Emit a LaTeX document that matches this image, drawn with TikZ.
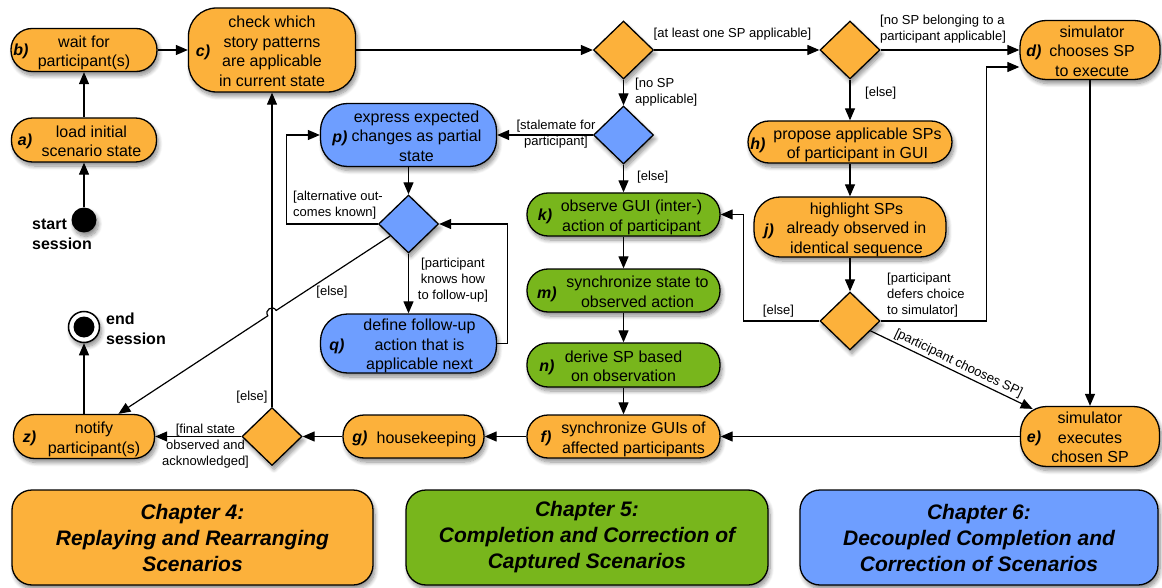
\documentclass[tikz,border=0pt]{standalone}
\usepackage{fontspec}
\setmainfont{Liberation Sans}
\usetikzlibrary{shapes.geometric, arrows.meta, calc, shadows.blur}

\definecolor{orng}{RGB}{252,177,59}
\definecolor{grn}{RGB}{120,182,28}
\definecolor{blu}{RGB}{110,158,255}

% text block of an activity, pushed right by half of #1 and set slightly low
\newcommand\actext[2]{\hspace*{#1}\raisebox{-3pt}[\height][\depth]{\begin{tabular}{@{}c@{}}#2\end{tabular}}}

\tikzset{
  softshadow/.style={blur shadow={shadow xshift=2pt, shadow yshift=-4pt,
      shadow blur radius=4pt, shadow blur steps=8, shadow opacity=45}},
  act/.style={draw, line width=1.3pt, rounded corners=21pt, inner sep=0pt,
      font=\fontsize{16}{19.5}\selectfont, softshadow},
  dia/.style={draw, shape=diamond, line width=1.3pt, inner sep=0pt,
      minimum width=60pt, minimum height=58pt, softshadow},
  lettertag/.style={inner sep=0pt, font=\fontsize{16}{19}\selectfont\bfseries\itshape},
  lbl/.style={inner sep=0pt, font=\fontsize{13}{16}\selectfont},
  bigbold/.style={inner sep=0pt, align=left, font=\fontsize{16}{20}\selectfont\bfseries},
  chap/.style={draw, line width=1.3pt, rounded corners=20pt, minimum height=95pt,
      align=center, font=\fontsize{21}{26}\selectfont\bfseries\itshape, softshadow},
  arr/.style={line width=1.2pt, -{Triangle[length=12pt,width=10pt]}},
}

\begin{document}
\begin{tikzpicture}[x=1pt, y=-1pt]
\useasboundingbox (0,0) rectangle (1162,588);

% ---------- start / end ----------
\node[circle, fill=black, minimum size=25pt, inner sep=0pt, softshadow] (start) at (84,220) {};
\node[bigbold, anchor=west] (startlbl) at (32,234) {start\\session};
\node[circle, draw, line width=1.5pt, fill=white, minimum size=31pt, inner sep=0pt, softshadow] (end) at (84,327) {};
\node[circle, fill=black, minimum size=21pt, inner sep=0pt] (endin) at (end) {};
\node[bigbold, anchor=west] (endlbl) at (106,329) {end\\session};

% ---------- activities: replaying ----------
\node[act, fill=orng, minimum width=145pt, minimum height=44pt] (a) at (84,140) {\actext{15pt}{load initial\\scenario state}};
\node[act, fill=orng, minimum width=146pt, minimum height=43pt] (b) at (84,50) {\actext{0pt}{wait for\\participant(s)}};
\node[act, fill=orng, minimum width=167pt, minimum height=84pt, rounded corners=28pt] (c) at (272,50) {\actext{0pt}{check which\\story patterns\\are applicable\\in current state}};
\node[act, fill=orng, minimum width=140pt, minimum height=59pt, rounded corners=26pt] (d) at (1090,50) {\actext{4pt}{simulator\\chooses SP\\to execute}};
\node[act, fill=orng, minimum width=139pt, minimum height=60pt, rounded corners=26pt] (e) at (1090,436.5) {\actext{0pt}{simulator\\executes\\chosen SP}};
\node[act, fill=orng, minimum width=204pt, minimum height=42pt] (h) at (850,142) {\actext{15pt}{propose applicable SPs\\of participant in GUI}};
\node[act, fill=orng, minimum width=192pt, minimum height=60pt, rounded corners=26pt] (j) at (850,227) {\actext{13pt}{highlight SPs\\already observed in\\identical sequence}};
\node[act, fill=orng, minimum width=193pt, minimum height=43pt] (f) at (623.5,436.5) {\actext{20pt}{synchronize GUIs of\\affected participants}};
\node[act, fill=orng, minimum width=141pt, minimum height=43pt] (g) at (413.5,436.5) {\actext{26pt}{housekeeping}};
\node[act, fill=orng, minimum width=141pt, minimum height=44pt] (z) at (84,436.5) {\actext{20pt}{notify\\participant(s)}};

% ---------- activities: completion ----------
\node[act, fill=grn, minimum width=193pt, minimum height=43pt] (k) at (623.5,214.5) {\actext{16pt}{observe GUI (inter-)\\action of participant}};
\node[act, fill=grn, minimum width=193pt, minimum height=43pt] (m) at (623.5,290.5) {\actext{28pt}{synchronize state to\\observed action}};
\node[act, fill=grn, minimum width=193pt, minimum height=44pt] (n) at (623.5,365) {\actext{0pt}{derive SP based\\on observation}};

% ---------- activities: decoupled completion ----------
\node[act, fill=blu, minimum width=176pt, minimum height=63pt, rounded corners=27pt] (p) at (408.5,135) {\actext{16pt}{express expected\\changes as partial\\state}};
\node[act, fill=blu, minimum width=176pt, minimum height=59pt, rounded corners=27pt] (q) at (408.5,343.5) {\actext{22pt}{define follow-up\\action that is\\applicable next}};

% ---------- decisions ----------
\node[dia, fill=orng] (d1) at (623.5,50) {};
\node[dia, fill=orng] (d2) at (850,50) {};
\node[dia, fill=blu]  (d3) at (623.5,135) {};
\node[dia, fill=blu]  (d4) at (408.5,224) {};
\node[dia, fill=orng] (d5) at (272,436.5) {};
\node[dia, fill=orng] (d6) at (850,321) {};

% ---------- letters ----------
\node[lettertag] (atag) at (25,141) {a)};
\node[lettertag] (btag) at (21,51) {b)};
\node[lettertag] (ctag) at (203,52) {c)};
\node[lettertag] (dtag) at (1034,52) {d)};
\node[lettertag] (etag) at (1034,438) {e)};
\node[lettertag] (ftag) at (546,438) {f)};
\node[lettertag] (gtag) at (360,438) {g)};
\node[lettertag] (htag) at (758,145) {h)};
\node[lettertag] (jtag) at (769,231) {j)};
\node[lettertag] (ktag) at (545,216) {k)};
\node[lettertag] (mtag) at (547,294) {m)};
\node[lettertag] (ntag) at (547,367) {n)};
\node[lettertag] (ptag) at (340,138) {p)};
\node[lettertag] (qtag) at (337,346) {q)};
\node[lettertag] (ztag) at (29.5,438) {z)};

% ---------- chapters ----------
\node[chap, fill=orng, minimum width=361pt] (ch4) at (192.5,537.5) {Chapter 4:\\Replaying and Rearranging\\Scenarios};
\node[chap, fill=grn, minimum width=362pt] (ch5) at (587,537.5) {Chapter 5:\\Completion and Correction of\\Captured Scenarios};
\node[chap, fill=blu, minimum width=358pt] (ch6) at (979,537.5) {Chapter 6:\\Decoupled Completion and\\Correction of Scenarios};

% ---------- flows ----------
\draw[arr] (start) -- (a);
\draw[arr] (a) -- (b);
\draw[arr] (b) -- (c);
\draw[arr] (c) -- (d1);
\draw[arr] (d1) -- (d2);
\draw[arr] (d2) -- (d);
\draw[arr] (d1) -- (d3);
\draw[arr] (d2) -- (h);
\draw[arr] (d3) -- (p);
\draw[arr] (d3) -- (k);
\draw[arr] (k) -- (m);
\draw[arr] (m) -- (n);
\draw[arr] (n) -- (f);
\draw[arr] (h) -- (j);
\draw[arr] (j) -- (d6);
\draw[arr] (d) -- (e);
\draw[arr] (e) -- (f);
\draw[arr] (f) -- (g);
\draw[arr] (g) -- (d5);
\draw[arr] (d5) -- (z);
\draw[arr] (d5) -- (c);
\draw[arr] (z) -- (end);
\draw[arr] (p) -- (d4);
\draw[arr] (d4) -- (q);
\draw[arr] (q.east) -- ++(10,0) |- (d4.east);
\draw[arr] (d4.west) -- ++(-91,0) |- (p.west);
\draw[arr] (d6.west) -- ++(-76,0) |- (k.east);
\draw[arr] (d6.east) -- ++(105.5,0) |- ($(d.west)+(0,17)$);
\draw[arr, shorten >=-7pt] (d6) -- node[lbl, sloped, above=2pt, pos=0.54] (g14) {[participant chooses SP]} (e);
% [else] branch hopping over the return line to c)
\coordinate (hopA) at (276.2,310.4);
\coordinate (hopB) at (267.8,315.8);
\draw[arr] (d4) -- (hopA) .. controls (272.5,304.6) and (264.1,310.0) .. (hopB) -- (z);

% ---------- guards ----------
\node[lbl] (g1) at (732.5,34) {[at least one SP applicable]};
\node[lbl, align=left, anchor=west] (g2) at (880,29.5) {[no SP belonging to a\\participant applicable]};
\node[lbl, align=left, anchor=west] (g3) at (635,92) {[no SP\\applicable]};
\node[lbl, align=center] (g4) at (556,134.5) {[stalemate for\\participant]};
\node[lbl, anchor=west] (g5) at (637,177) {[else]};
\node[lbl, anchor=west] (g6) at (865,93) {[else]};
\node[lbl, align=left, anchor=west] (g7) at (293,205) {[alternative out-\\comes known]};
\node[lbl, align=center] (g8) at (453,280) {[participant\\knows how\\to follow-up]};
\node[lbl] (g9) at (332,292) {[else]};
\node[lbl] (g10) at (252,397) {[else]};
\node[lbl, align=center] (g11) at (205.5,446) {[final state\\observed and\\acknowledged]};
\node[lbl] (g12) at (778.5,311) {[else]};
\node[lbl, align=left, anchor=west] (g13) at (887,295.5) {[participant\\defers choice\\to simulator]};
\end{tikzpicture}
\end{document}
